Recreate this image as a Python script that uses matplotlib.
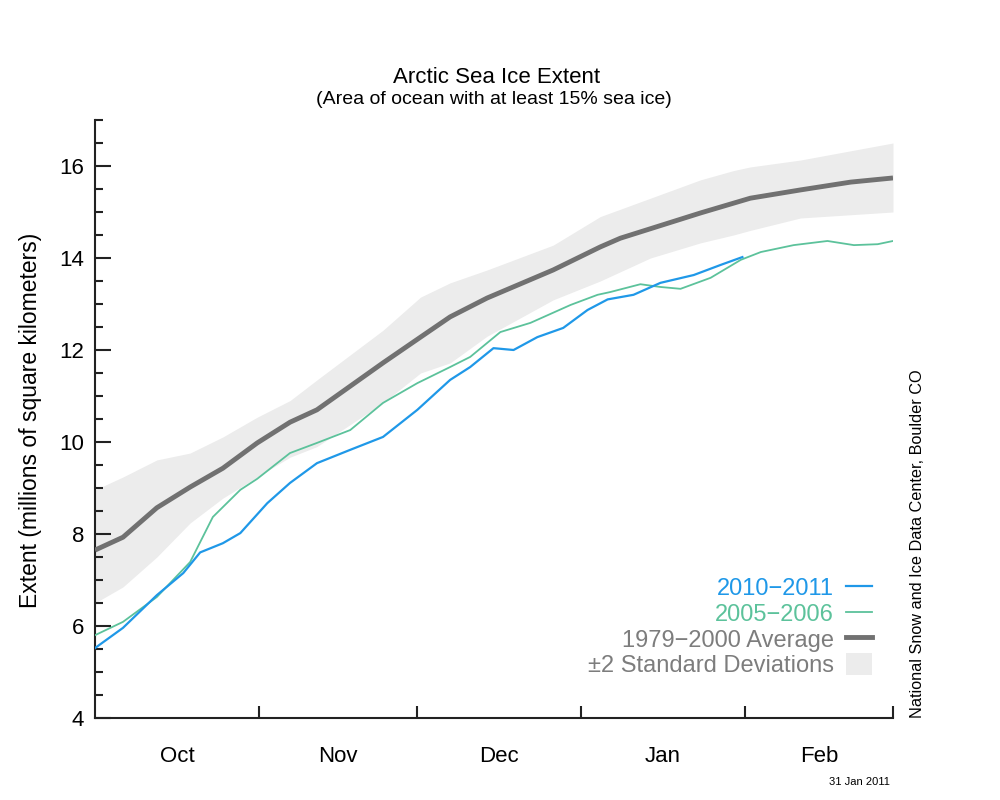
import matplotlib
matplotlib.use("Agg")
import matplotlib.pyplot as plt
from matplotlib.lines import Line2D
from matplotlib.patches import Patch
from matplotlib.ticker import MultipleLocator, FixedLocator, NullFormatter

plt.rcParams['font.family'] = ['Liberation Sans', 'DejaVu Sans']

# x values: days since 1 Oct
avg_days = [0, 5.3, 11.7, 18, 24.2, 30.7, 36.9, 42, 54.5, 61.6, 67.2, 74.2, 86.7, 95.6, 99.4, 114.6, 124, 133.5, 143, 151]
avg_vals = [7.65, 7.93, 8.57, 9.02, 9.43, 9.98, 10.43, 10.7, 11.72, 12.28, 12.72, 13.13, 13.74, 14.24, 14.43, 14.98, 15.3, 15.48, 15.65, 15.74]

band_days = [0, 5.3, 11.7, 18, 24.2, 30.7, 36.9, 42, 54.5, 61.6, 67.2, 74.2, 86.7, 95.6, 105.1, 114.6, 120.8, 124, 133.5, 151]
band_upper = [8.96, 9.24, 9.61, 9.76, 10.11, 10.54, 10.9, 11.35, 12.43, 13.15, 13.46, 13.74, 14.28, 14.9, 15.3, 15.7, 15.9, 15.98, 16.13, 16.5]
band_lower = [6.5, 6.85, 7.5, 8.24, 8.78, 9.24, 9.67, 9.9, 10.85, 11.5, 11.72, 12.3, 13.09, 13.5, 14.0, 14.33, 14.5, 14.6, 14.87, 15.0]

s0506_days = [0, 5.3, 11.7, 18, 22.3, 27.5, 30.7, 36.9, 42, 48.3, 54.5, 61, 67.2, 71, 76.7, 82.4, 90, 95.1, 97.5, 103.2, 107, 110.8, 116.5, 122.2, 126, 132.2, 138.6, 143.6, 148.1, 151]
s0506_vals = [5.8, 6.09, 6.63, 7.39, 8.37, 8.96, 9.2, 9.76, 9.98, 10.26, 10.85, 11.28, 11.63, 11.85, 12.39, 12.59, 12.98, 13.2, 13.26, 13.43, 13.37, 13.33, 13.57, 13.96, 14.13, 14.28, 14.37, 14.28, 14.3, 14.37]

s1011_days = [0, 5.3, 11.7, 16.7, 19.9, 24.2, 27.5, 32.6, 36.9, 42, 48.3, 54.5, 61, 67.2, 71, 75.4, 79.2, 83.7, 88.6, 93.2, 97, 101.9, 107, 113.3, 118.4, 122.5]
s1011_vals = [5.52, 5.96, 6.67, 7.15, 7.6, 7.8, 8.02, 8.67, 9.11, 9.54, 9.83, 10.11, 10.7, 11.35, 11.63, 12.04, 12.0, 12.28, 12.48, 12.87, 13.1, 13.2, 13.46, 13.63, 13.85, 14.02]

month_bounds = [31, 61, 92, 123, 151]
month_mids = [15.5, 46, 76.5, 107.5, 137]
month_labels = ['Oct', 'Nov', 'Dec', 'Jan', 'Feb']

c_blue = '#1f98e8'
c_green = '#5cc29b'
c_gray = '#717171'
c_band = '#ececec'
c_text_gray = '#7d7d7d'

fig = plt.figure(figsize=(10, 8), dpi=100)
ax = fig.add_axes([0.095, 0.1025, 0.798, 0.7475])

ax.fill_between(band_days, band_lower, band_upper, color=c_band, lw=0, zorder=1)
ax.plot(avg_days, avg_vals, color=c_gray, lw=3.5, zorder=3, solid_capstyle='butt', solid_joinstyle='round')
ax.plot(s0506_days, s0506_vals, color=c_green, lw=1.3, zorder=4, solid_joinstyle='round')
ax.plot(s1011_days, s1011_vals, color=c_blue, lw=1.6, zorder=5, solid_joinstyle='round')

ax.set_xlim(0, 151)
ax.set_ylim(4, 17)
for s in ['top', 'right']:
    ax.spines[s].set_visible(False)
for s in ['left', 'bottom']:
    ax.spines[s].set_linewidth(1.5)
    ax.spines[s].set_color('#222222')

ax.yaxis.set_major_locator(MultipleLocator(2))
ax.yaxis.set_minor_locator(MultipleLocator(0.5))
ax.tick_params(axis='y', which='major', direction='in', length=11.5, width=1.5,
               labelsize=16, pad=8, color='#222222')
ax.tick_params(axis='y', which='minor', direction='in', length=5.5, width=1.5, color='#222222')

ax.xaxis.set_major_locator(FixedLocator(month_bounds))
ax.xaxis.set_major_formatter(NullFormatter())
ax.xaxis.set_minor_locator(FixedLocator(month_mids))
ax.set_xticklabels(month_labels, minor=True)
ax.tick_params(axis='x', which='major', direction='in', length=9, width=1.5, color='#222222')
ax.tick_params(axis='x', which='minor', length=0, labelsize=16, pad=20)

fig.text(0.497, 0.903, 'Arctic Sea Ice Extent', ha='center', va='center', fontsize=16)
fig.text(0.494, 0.876, '(Area of ocean with at least 15% sea ice)', ha='center', va='center', fontsize=14)
fig.text(0.031, 0.474, 'Extent (millions of square kilometers)', rotation=90,
         ha='center', va='center', fontsize=16.5)
fig.text(0.918, 0.1025, 'National Snow and Ice Data Center, Boulder CO', rotation=90,
         ha='center', va='bottom', fontsize=11.7)
fig.text(0.859, 0.0225, '31 Jan 2011', ha='center', va='center', fontsize=8)

handles = [
    Line2D([], [], color=c_blue, lw=1.6),
    Line2D([], [], color=c_green, lw=1.3),
    Line2D([], [], color=c_gray, lw=3.5),
    Patch(facecolor=c_band, edgecolor='none'),
]
labels = ['2010\u22122011', '2005\u22122006', '1979\u22122000 Average', '\u00b12 Standard Deviations']
leg = fig.legend(handles, labels, loc='upper right', bbox_to_anchor=(0.872, 0.279),
                 frameon=False, markerfirst=False, fontsize=17, handlelength=1.1,
                 handletextpad=0.5, labelspacing=0.08, borderpad=0, borderaxespad=0,
                 handleheight=1.0)
for t, c in zip(leg.get_texts(), [c_blue, c_green, c_text_gray, c_text_gray]):
    t.set_color(c)

fig.savefig('out.png', dpi=100, facecolor='white')
